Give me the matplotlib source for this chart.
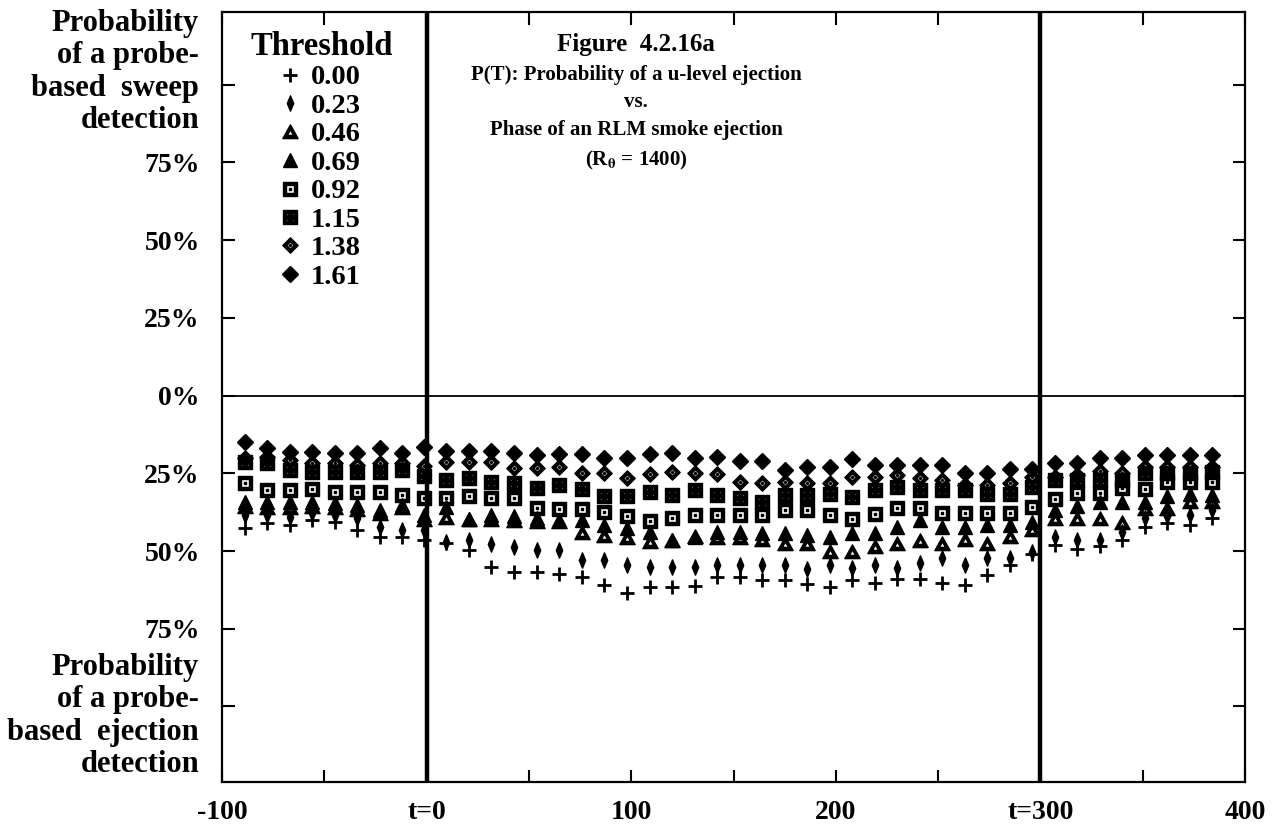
import numpy as np
import matplotlib
matplotlib.use("Agg")
import matplotlib.pyplot as plt
from matplotlib.path import Path
from matplotlib.lines import Line2D

plt.rcParams['font.family'] = ['Liberation Serif', 'DejaVu Serif']
plt.rcParams['font.weight'] = 'bold'
plt.rcParams['mathtext.fontset'] = 'stix'

# phase of the RLM smoke ejection (column positions)
phase = [-89, -78, -67, -56, -45, -34, -23, -12, -1.5, 9.7, 20.6, 31.7, 42.7, 53.8,
         64.7, 75.8, 86.7, 97.8, 109, 120, 131, 142, 153, 164, 175, 186, 197, 208,
         219, 230, 241, 252, 263, 274, 285, 296, 307, 318, 329, 340, 351, 362, 373, 384]

# probability (%) of a probe-based ejection detection, one list per threshold
p_000 = [42.7, 41.1, 41.7, 40.0, 40.6, 43.3, 45.4, 45.4, 46.5, 47.4, 49.7, 55.1, 56.7, 56.7,
         57.4, 58.5, 61.0, 63.4, 61.5, 61.5, 61.3, 58.3, 58.3, 59.4, 59.4, 60.6, 61.5, 59.4,
         60.4, 59.1, 59.1, 60.4, 61.0, 57.7, 54.5, 50.8, 48.1, 49.2, 48.4, 46.5, 42.2, 41.1, 41.7, 39.5]
p_023 = [38.4, 38.4, 39.0, 37.9, 38.4, 39.5, 42.2, 43.3, 43.3, 47.0, 46.5, 47.6, 48.8, 49.7,
         49.7, 52.9, 52.9, 54.5, 55.1, 55.1, 55.1, 54.5, 54.5, 54.5, 54.5, 55.9, 54.5, 55.6,
         54.5, 55.6, 53.8, 52.4, 54.5, 52.4, 52.4, 50.2, 45.4, 46.5, 46.5, 43.8, 39.5, 38.8, 38.4, 36.8]
p_046 = [35.7, 36.0, 36.3, 35.7, 36.3, 36.8, 38.0, 36.3, 40.0, 39.5, 40.0, 40.0, 40.2, 40.6,
         40.6, 44.1, 45.2, 45.9, 47.0, 46.8, 45.6, 45.9, 45.9, 46.5, 47.6, 47.6, 50.2, 50.2,
         48.8, 47.8, 46.7, 47.6, 46.5, 47.6, 45.4, 43.3, 39.8, 39.8, 39.8, 40.9, 36.6, 36.6, 34.1, 34.1]
p_069 = [34.1, 34.1, 34.1, 34.1, 34.7, 35.2, 36.8, 35.2, 38.4, 35.7, 39.8, 38.4, 38.8, 39.5,
         40.0, 40.0, 41.6, 42.7, 43.8, 46.5, 45.4, 43.8, 43.8, 44.3, 44.3, 44.9, 45.4, 44.3,
         44.3, 42.2, 40.0, 42.2, 42.2, 41.6, 41.6, 40.8, 36.8, 35.5, 34.1, 34.1, 34.1, 32.3, 31.5, 32.0]
p_092 = [28.0, 30.4, 30.4, 30.2, 30.9, 30.9, 30.9, 32.0, 33.1, 33.1, 32.3, 33.1, 33.1, 36.3,
         36.6, 36.6, 37.4, 38.8, 40.3, 39.5, 38.4, 38.4, 38.4, 38.4, 36.8, 36.8, 38.4, 39.8,
         38.1, 36.0, 36.0, 37.9, 37.9, 37.9, 37.9, 35.8, 33.4, 31.2, 31.2, 29.8, 30.2, 27.7, 27.7, 27.7]
p_115 = [21.5, 21.8, 23.9, 24.5, 24.5, 24.5, 24.5, 23.9, 26.0, 27.0, 26.6, 27.7, 28.2, 29.8,
         28.8, 30.2, 32.3, 32.3, 30.9, 32.0, 30.4, 32.0, 33.1, 34.1, 32.0, 32.0, 31.7, 32.5,
         30.4, 29.3, 30.4, 30.4, 30.4, 31.5, 31.5, 29.3, 27.2, 27.0, 27.2, 27.2, 24.8, 24.8, 25.0, 24.5]
p_138 = [20.0, 19.7, 20.7, 21.6, 21.8, 22.3, 21.8, 21.8, 22.5, 21.3, 21.3, 21.3, 23.4, 23.4,
         23.1, 24.8, 24.8, 26.6, 25.2, 24.5, 25.0, 25.2, 27.7, 28.2, 27.7, 28.2, 28.2, 26.1,
         26.1, 25.6, 26.6, 27.0, 28.8, 28.8, 28.2, 26.1, 26.1, 25.6, 24.2, 25.0, 22.9, 23.1, 23.1, 22.9]
p_161 = [15.0, 17.0, 18.0, 18.0, 18.4, 18.4, 17.0, 18.4, 16.4, 17.7, 17.7, 17.7, 18.4, 19.1,
         18.8, 18.8, 20.2, 20.2, 18.8, 18.6, 20.2, 19.9, 20.9, 20.9, 24.0, 22.9, 22.9, 20.5,
         22.3, 22.3, 22.3, 22.3, 24.8, 24.8, 23.7, 23.6, 21.6, 21.6, 20.2, 20.2, 19.1, 19.1, 19.1, 19.1]

thresholds = ['0.00', '0.23', '0.46', '0.69', '0.92', '1.15', '1.38', '1.61']
y_ticks = [-100, -75, -50, -25, 0, 25, 50, 75, 100]
y_labels = ['', '75%', '50%', '25%', '0%', '25%', '50%', '75%', '']
x_ticks = [-100, 0, 100, 200, 300, 400]
x_labels = ['-100', 't=0', '100', '200', 't=300', '400']


def shape(*polys):
    # compound marker path; inner rings are reversed so they become holes
    verts, codes = [], []
    for poly in polys:
        verts.extend(poly + [poly[0]])
        codes.extend([Path.MOVETO] + [Path.LINETO] * (len(poly) - 1) + [Path.CLOSEPOLY])
    return Path(verts, codes)


def sq(a, cx=0.0, cy=0.0, cw=False):
    pts = [(cx - a, cy - a), (cx + a, cy - a), (cx + a, cy + a), (cx - a, cy + a)]
    return pts[::-1] if cw else pts


def dia(a, cw=False):
    pts = [(a, 0), (0, a), (-a, 0), (0, -a)]
    return pts[::-1] if cw else pts


def tri(a, cw=False):
    pts = [(-a, -0.8 * a - 0.1 * (1 - a)), (a, -0.8 * a - 0.1 * (1 - a)), (0, a - 0.1 * (1 - a))]
    return pts[::-1] if cw else pts


open_square = shape(sq(1), sq(0.55, cw=True), sq(0.16))
dot_square = shape(sq(1), sq(0.17, -0.42, -0.42, True), sq(0.17, 0.42, -0.42, True),
                   sq(0.17, -0.42, 0.42, True), sq(0.17, 0.42, 0.42, True))
open_diamond = shape(dia(1), dia(0.5, True), dia(0.17))
open_triangle = shape(tri(1), tri(0.4, True))
thin_diamond = shape([(0, 1), (0.42, 0), (0, -1), (-0.42, 0)])

styles = [
    dict(marker='+', markersize=10, markeredgewidth=2.0),
    dict(marker=thin_diamond, markersize=11),
    dict(marker=open_triangle, markersize=11),
    dict(marker='^', markersize=10),
    dict(marker=open_square, markersize=10),
    dict(marker=dot_square, markersize=10),
    dict(marker=open_diamond, markersize=11),
    dict(marker='D', markersize=8),
]
series = [p_000, p_023, p_046, p_069, p_092, p_115, p_138, p_161]

W, H = 1277, 832
fig = plt.figure(figsize=(W / 100, H / 100), dpi=100)
ax = fig.add_axes([222 / W, 1 - 782 / H, (1245 - 222) / W, (782 - 12) / H])

handles = []
for vals, st in zip(series, styles):
    ax.plot(phase, -np.array(vals), linestyle='none', color='black',
            markerfacecolor='black', markeredgecolor='black', **st)
    handles.append(Line2D([0], [0], linestyle='none', color='black',
                          markerfacecolor='black', markeredgecolor='black', **st))

ax.axhline(0, color='black', linewidth=1.3)
ax.axvline(0, color='black', linewidth=3.2)
ax.axvline(300, color='black', linewidth=3.2)

ax.set_xlim(-100, 400)
ax.set_ylim(-124.3, 123.4)
ax.set_xticks(x_ticks)
ax.set_xticklabels(x_labels, fontsize=20, fontweight='bold')
ax.set_xticks(np.arange(-50, 400, 100), minor=True)
ax.set_yticks(y_ticks)
ax.set_yticklabels(y_labels, fontsize=20, fontweight='bold')
ax.tick_params(axis='both', which='both', direction='in', length=9, width=1.5,
               top=True, right=True)
ax.tick_params(axis='x', which='major', pad=13)
ax.tick_params(axis='y', which='major', pad=16)
for s in ax.spines.values():
    s.set_linewidth(1.6)

fig.text(199 / W, 1 - 72 / H, 'Probability\nof a probe-\nbased  sweep\ndetection',
         ha='right', va='center', fontsize=22, fontweight='bold', linespacing=1.15,
         multialignment='right')
fig.text(199 / W, 1 - 716 / H, 'Probability\nof a probe-\nbased  ejection\ndetection',
         ha='right', va='center', fontsize=22, fontweight='bold', linespacing=1.15,
         multialignment='right')

cx = 636 / W
fig.text(cx, 1 - 45 / H, 'Figure  4.2.16a', ha='center', va='center', fontsize=18, fontweight='bold')
fig.text(cx, 1 - 75 / H, 'P(T): Probability of a u-level ejection', ha='center', va='center', fontsize=15)
fig.text(cx, 1 - 102 / H, 'vs.', ha='center', va='center', fontsize=15)
fig.text(cx, 1 - 130 / H, 'Phase of an RLM smoke ejection', ha='center', va='center', fontsize=15)
fig.text(cx, 1 - 160 / H, r'(R$_{\mathbf{\theta}}$ = 1400)', ha='center', va='center', fontsize=15)

leg = ax.legend(handles, thresholds, title='Threshold', loc='upper left',
                bbox_to_anchor=(250 / W, 1 - 31 / H), bbox_transform=fig.transFigure,
                frameon=False, fontsize=20.5, handlelength=0.6, handletextpad=0.44,
                labelspacing=0.09, borderpad=0, borderaxespad=0, numpoints=1,
                alignment='center')
leg.get_title().set_fontsize(23.5)
leg.get_title().set_fontweight('bold')

fig.savefig('out.png', dpi=100)
